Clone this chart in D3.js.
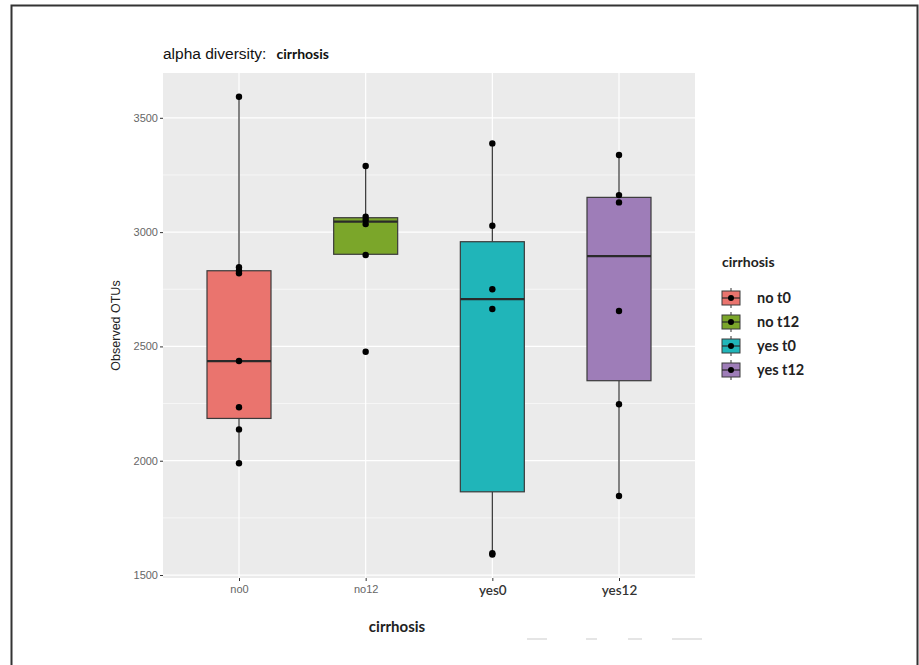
<!DOCTYPE html>
<html>
<head>
<meta charset="utf-8">
<script src="https://cdn.jsdelivr.net/npm/d3@7"></script>
<style>
  body { margin: 0; background: #fff; }
  svg { display: block; }
</style>
</head>
<body>
<svg id="chart" width="919" height="665"></svg>
<script>
// Groups on the x axis and their legend labels
const groups = ["no0", "no12", "yes0", "yes12"];
const legendLabels = ["no t0", "no t12", "yes t0", "yes t12"];
const fills = ["#EA746E", "#7BA62A", "#20B5B9", "#9E7DB8"];

// Box summary per group
const whiskerLow = [1989, 2900, 1595, 1846];
const q1 = [2185, 2903, 1864, 2350];
const median = [2436, 3046, 2707, 2895];
const q3 = [2831, 3063, 2958, 3152];
const whiskerHigh = [3592, 3289, 3388, 3337];

// Individual samples (observed OTUs)
const samples = [
  [1989, 2137, 2234, 2436, 2820, 2831, 2846, 3592],
  [2477, 2900, 3035, 3053, 3067, 3289],
  [1590, 1595, 2664, 2750, 3028, 3388],
  [1846, 2247, 2655, 3130, 3162, 3337]
];

const yTicks = [1500, 2000, 2500, 3000, 3500];
const yMinor = [1750, 2250, 2750, 3250];

const svg = d3.select("#chart");

// outer frame
svg.append("rect")
  .attr("x", 11.5).attr("y", 5.5)
  .attr("width", 906).attr("height", 700)
  .attr("fill", "none").attr("stroke", "#333").attr("stroke-width", 2);

const panel = { left: 163, right: 695, top: 73, bottom: 578 };

const y = d3.scaleLinear()
  .domain([1487, 3696])
  .range([panel.bottom, panel.top]);

const x = d3.scalePoint()
  .domain(groups)
  .range([panel.left, panel.right])
  .padding(0.6);

const boxW = 64;

// panel background
svg.append("rect")
  .attr("x", panel.left).attr("y", panel.top)
  .attr("width", panel.right - panel.left)
  .attr("height", panel.bottom - panel.top)
  .attr("fill", "#EBEBEB");

const grid = svg.append("g");
grid.selectAll("line.minor").data(yMinor).join("line")
  .attr("x1", panel.left).attr("x2", panel.right)
  .attr("y1", d => y(d)).attr("y2", d => y(d))
  .attr("stroke", "#fff").attr("stroke-width", 0.6);
grid.selectAll("line.major").data(yTicks).join("line")
  .attr("x1", panel.left).attr("x2", panel.right)
  .attr("y1", d => y(d)).attr("y2", d => y(d))
  .attr("stroke", "#fff").attr("stroke-width", 1.2);
grid.selectAll("line.vx").data(groups).join("line")
  .attr("x1", d => x(d)).attr("x2", d => x(d))
  .attr("y1", panel.top).attr("y2", panel.bottom)
  .attr("stroke", "#fff").attr("stroke-width", 1.2);

// y axis
const yAxis = d3.axisLeft(y).tickValues(yTicks).tickFormat(d3.format("d"))
  .tickSize(3).tickPadding(2);
const yg = svg.append("g").attr("transform", `translate(${panel.left},0)`).call(yAxis);
yg.select(".domain").remove();
yg.selectAll(".tick line").attr("stroke", "#333");
yg.selectAll(".tick text")
  .attr("fill", "#666").attr("font-family", "Liberation Sans, Arial, sans-serif")
  .attr("font-size", 11);

// x axis
const xAxis = d3.axisBottom(x).tickSize(3).tickPadding(4);
const xg = svg.append("g").attr("transform", `translate(0,${panel.bottom})`).call(xAxis);
xg.select(".domain").remove();
xg.selectAll(".tick line").attr("stroke", "#333");
xg.selectAll(".tick text")
  .attr("font-family", (d, i) => i < 2 ? "Liberation Sans, Arial, sans-serif" : "Lato, sans-serif")
  .attr("font-size", (d, i) => i < 2 ? 11 : 13.5)
  .attr("font-weight", (d, i) => i < 2 ? "normal" : "600")
  .attr("fill", (d, i) => i < 2 ? "#666" : "#333");

// boxes
const boxes = svg.append("g");
groups.forEach((g, i) => {
  const cx = x(g);
  const gg = boxes.append("g");
  gg.append("line")
    .attr("x1", cx).attr("x2", cx)
    .attr("y1", y(q3[i])).attr("y2", y(whiskerHigh[i]))
    .attr("stroke", "#333").attr("stroke-width", 1.2);
  gg.append("line")
    .attr("x1", cx).attr("x2", cx)
    .attr("y1", y(q1[i])).attr("y2", y(whiskerLow[i]))
    .attr("stroke", "#333").attr("stroke-width", 1.2);
  gg.append("rect")
    .attr("x", cx - boxW / 2).attr("width", boxW)
    .attr("y", y(q3[i])).attr("height", y(q1[i]) - y(q3[i]))
    .attr("fill", fills[i]).attr("stroke", "#3a3a3a").attr("stroke-width", 1.2);
  gg.append("line")
    .attr("x1", cx - boxW / 2).attr("x2", cx + boxW / 2)
    .attr("y1", y(median[i])).attr("y2", y(median[i]))
    .attr("stroke", "#2a2a2a").attr("stroke-width", 2.2);
  gg.selectAll("circle").data(samples[i]).join("circle")
    .attr("cx", cx).attr("cy", d => y(d)).attr("r", 3.2)
    .attr("fill", "#000");
});

// title
const title = svg.append("text").attr("x", 163).attr("y", 59);
title.append("tspan")
  .attr("font-family", "Liberation Sans, Arial, sans-serif").attr("font-size", 15.5)
  .attr("fill", "#111").text("alpha diversity:");
title.append("tspan").attr("dx", 10)
  .attr("font-family", "Lato, sans-serif").attr("font-weight", "bold")
  .attr("font-size", 14).attr("fill", "#111").text("cirrhosis");

// axis titles
svg.append("text")
  .attr("transform", `translate(120,${(panel.top + panel.bottom) / 2}) rotate(-90)`)
  .attr("text-anchor", "middle")
  .attr("font-family", "Liberation Sans, Arial, sans-serif").attr("font-size", 12.5)
  .attr("fill", "#222").text("Observed OTUs");

svg.append("text")
  .attr("x", 397).attr("y", 632).attr("text-anchor", "middle")
  .attr("font-family", "Lato, sans-serif").attr("font-weight", "bold")
  .attr("font-size", 15).attr("fill", "#222").text("cirrhosis");

// legend
const legend = svg.append("g").attr("transform", "translate(720,0)");
legend.append("text").attr("x", 2).attr("y", 267)
  .attr("font-family", "Lato, sans-serif").attr("font-weight", "bold")
  .attr("font-size", 14).attr("fill", "#222").text("cirrhosis");
const rowY = [298, 322, 346, 370];
legendLabels.forEach((lab, i) => {
  const k = legend.append("g").attr("transform", `translate(0,${rowY[i]})`);
  k.append("line").attr("x1", 11).attr("x2", 11).attr("y1", -10).attr("y2", 10)
    .attr("stroke", "#333").attr("stroke-width", 1);
  k.append("rect").attr("x", 2).attr("y", -7).attr("width", 18).attr("height", 14)
    .attr("fill", fills[i]).attr("stroke", "#3a3a3a").attr("stroke-width", 1);
  k.append("line").attr("x1", 2).attr("x2", 20).attr("y1", 0).attr("y2", 0)
    .attr("stroke", "#2a2a2a").attr("stroke-width", 1.2);
  k.append("circle").attr("cx", 11).attr("cy", 0).attr("r", 3).attr("fill", "#000");
  k.append("text").attr("x", 37).attr("y", 5)
    .attr("font-family", "Lato, sans-serif").attr("font-weight", "bold")
    .attr("font-size", 14.5).attr("fill", "#222").text(lab);
});

// faint rule marks beneath the chart
const rules = [[527, 547], [586, 597], [628, 642], [672, 702]];
svg.append("g").selectAll("line").data(rules).join("line")
  .attr("x1", d => d[0]).attr("x2", d => d[1])
  .attr("y1", 639).attr("y2", 639)
  .attr("stroke", "#ddd").attr("stroke-width", 1.5);
</script>
</body>
</html>
